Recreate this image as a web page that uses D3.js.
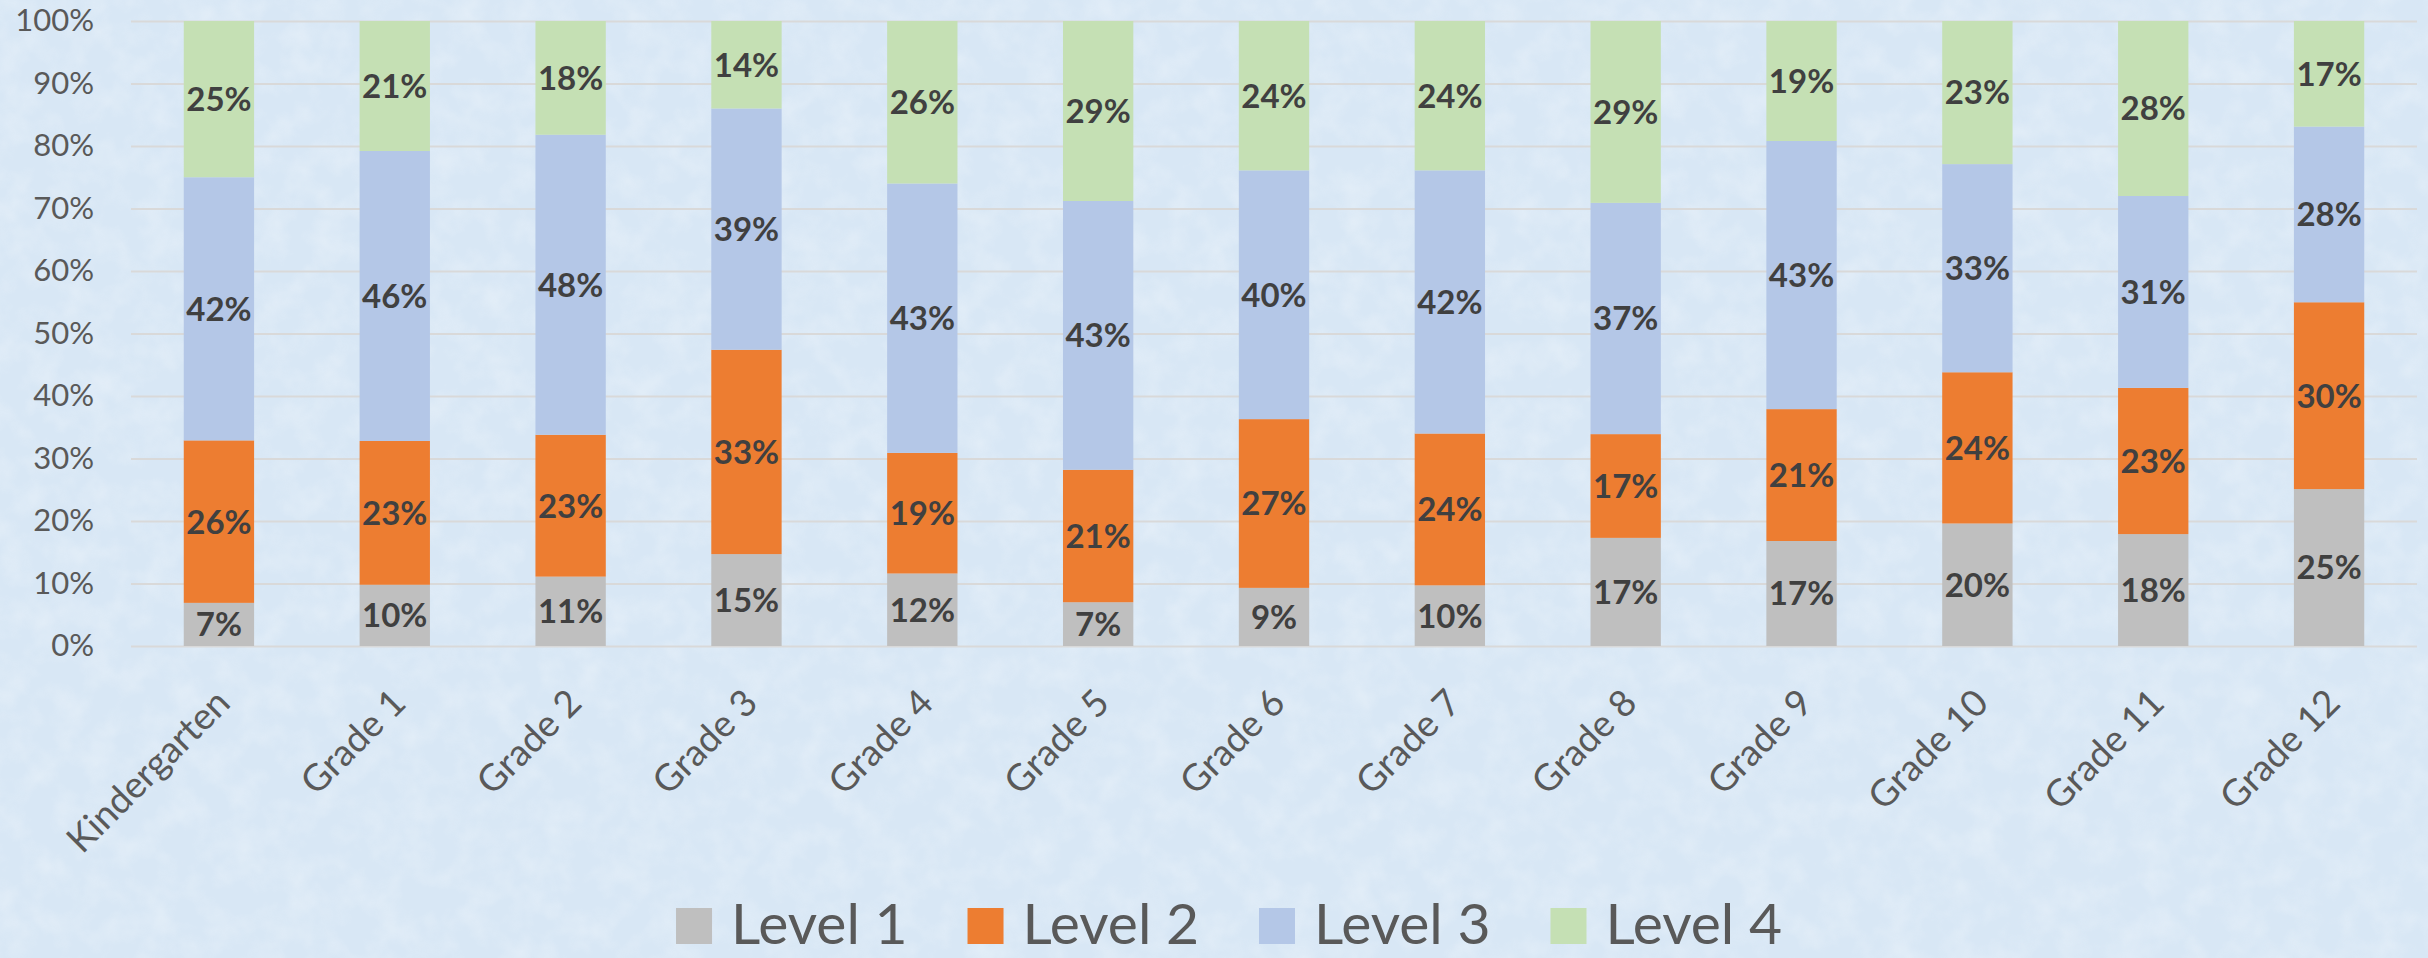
<!DOCTYPE html>
<html>
<head>
<meta charset="utf-8">
<script src="https://cdn.jsdelivr.net/npm/d3@7"></script>
<style>
  body { margin: 0; background: #dae8f5; }
  svg { display: block; }
</style>
</head>
<body>
<div id="chart"></div>
<script>

// categories and series (percent of students in each level)
var grades = ["Kindergarten", "Grade 1", "Grade 2", "Grade 3", "Grade 4", "Grade 5", "Grade 6",
              "Grade 7", "Grade 8", "Grade 9", "Grade 10", "Grade 11", "Grade 12"]
var level1 = [6.9, 9.8, 11.1, 14.7, 11.6, 7.0, 9.3, 9.7, 17.3, 16.8, 19.6, 17.9, 25.1]
var level2 = [26.0, 23.0, 22.7, 32.7, 19.3, 21.2, 27.0, 24.3, 16.6, 21.1, 24.2, 23.4, 29.9]
var level3 = [42.1, 46.4, 48.0, 38.6, 43.1, 43.0, 39.8, 42.1, 37.0, 42.9, 33.3, 30.7, 28.1]
var level4 = [25.0, 20.8, 18.2, 14.0, 26.0, 28.8, 23.9, 23.9, 29.1, 19.2, 22.9, 28.0, 16.9]
var levelNames = ["Level 1", "Level 2", "Level 3", "Level 4"]
var yTicks = [0, 10, 20, 30, 40, 50, 60, 70, 80, 90, 100]

var colors = ["#bfbfbf", "#ed7d31", "#b4c7e7", "#c5e0b4"]

var W = 2428, H = 958
var margin = {top: 21, right: 11, bottom: 312, left: 131}
var width = W - margin.left - margin.right,
    height = H - margin.top - margin.bottom

var svg = d3.select("#chart")
  .append("svg")
    .attr("width", W)
    .attr("height", H)

// light blue paper background with a soft mottled texture
var defs = svg.append("defs")
var f = defs.append("filter").attr("id", "paper")
    .attr("x", 0).attr("y", 0).attr("width", "100%").attr("height", "100%")
f.append("feTurbulence")
    .attr("type", "fractalNoise")
    .attr("baseFrequency", "0.035")
    .attr("numOctaves", 3)
    .attr("seed", 7)
f.append("feColorMatrix")
    .attr("type", "matrix")
    .attr("values", "0 0 0 0 1  0 0 0 0 1  0 0 0 0 1  0.9 0 0 0 -0.35")

svg.append("rect")
    .attr("width", W)
    .attr("height", H)
    .attr("fill", "#d8e7f5")
svg.append("rect")
    .attr("width", W)
    .attr("height", H)
    .attr("filter", "url(#paper)")
    .attr("opacity", 0.55)

var g = svg.append("g")
    .attr("transform", "translate(" + margin.left + "," + margin.top + ")")

// build the table for d3.stack
var series = [level1, level2, level3, level4]
var table = grades.map(function(name, i) {
  var row = {grade: name}
  levelNames.forEach(function(l, j) { row[l] = series[j][i] })
  return row
})

var x = d3.scaleBand()
    .domain(grades)
    .range([0, width])
    .paddingInner(0.6)
    .paddingOuter(0.3)

var y = d3.scaleLinear()
    .domain([0, 100])
    .range([height, 0])

// Y axis + gridlines
var yAxis = g.append("g")
    .call(d3.axisLeft(y)
      .tickValues(yTicks)
      .tickSize(-width)
      .tickPadding(37)
      .tickFormat(function(d) { return d + "%" }))
yAxis.select(".domain").remove()
yAxis.selectAll("line")
    .attr("stroke", "#d9d9d9")
    .attr("stroke-width", 2)
yAxis.selectAll("text")
    .attr("fill", "#595959")
    .style("font-family", "Lato")
    .style("font-size", "31px")

// X axis labels
var xAxis = g.append("g")
    .attr("transform", "translate(0," + height + ")")
    .call(d3.axisBottom(x).tickSize(0))
xAxis.select(".domain").remove()
xAxis.selectAll("text")
    .attr("fill", "#595959")
    .style("font-family", "Lato")
    .style("font-size", "37px")
    .attr("text-anchor", "end")
    .attr("x", 0)
    .attr("y", 0)
    .attr("dy", "0.35em")
    .attr("transform", "translate(4,50) rotate(-45)")

// stacked bars
var stacked = d3.stack().keys(levelNames)(table)

var layer = g.selectAll(".layer")
  .data(stacked)
  .enter().append("g")
    .attr("class", "layer")
    .attr("fill", function(d, i) { return colors[i] })

layer.selectAll("rect")
  .data(function(d) { return d })
  .enter().append("rect")
    .attr("x", function(d) { return x(d.data.grade) })
    .attr("y", function(d) { return y(d[1]) })
    .attr("width", x.bandwidth())
    .attr("height", function(d) { return y(d[0]) - y(d[1]) })

// data labels
layer.selectAll("text")
  .data(function(d) { return d })
  .enter().append("text")
    .attr("x", function(d) { return x(d.data.grade) + x.bandwidth() / 2 })
    .attr("y", function(d) { return (y(d[0]) + y(d[1])) / 2 })
    .attr("dy", "0.36em")
    .attr("text-anchor", "middle")
    .attr("fill", "#404040")
    .style("font-family", "Lato")
    .style("font-weight", "bold")
    .style("font-size", "33px")
    .text(function(d) { return Math.round(d[1] - d[0]) + "%" })

// legend
var legend = svg.append("g")
var lx = 0
levelNames.forEach(function(name, i) {
  var item = legend.append("g").attr("transform", "translate(" + lx + ",0)")
  item.append("rect")
      .attr("x", 0)
      .attr("y", -36)
      .attr("width", 36)
      .attr("height", 36)
      .attr("fill", colors[i])
  var t = item.append("text")
      .attr("x", 55)
      .attr("y", 0)
      .attr("fill", "#595959")
      .style("font-family", "Lato")
      .style("font-size", "57px")
      .text(name)
  lx += 55 + t.node().getComputedTextLength() + 60
})
var legendWidth = lx - 60
legend.attr("transform", "translate(" + (1229 - legendWidth / 2) + ",944)")

</script>
</body>
</html>
